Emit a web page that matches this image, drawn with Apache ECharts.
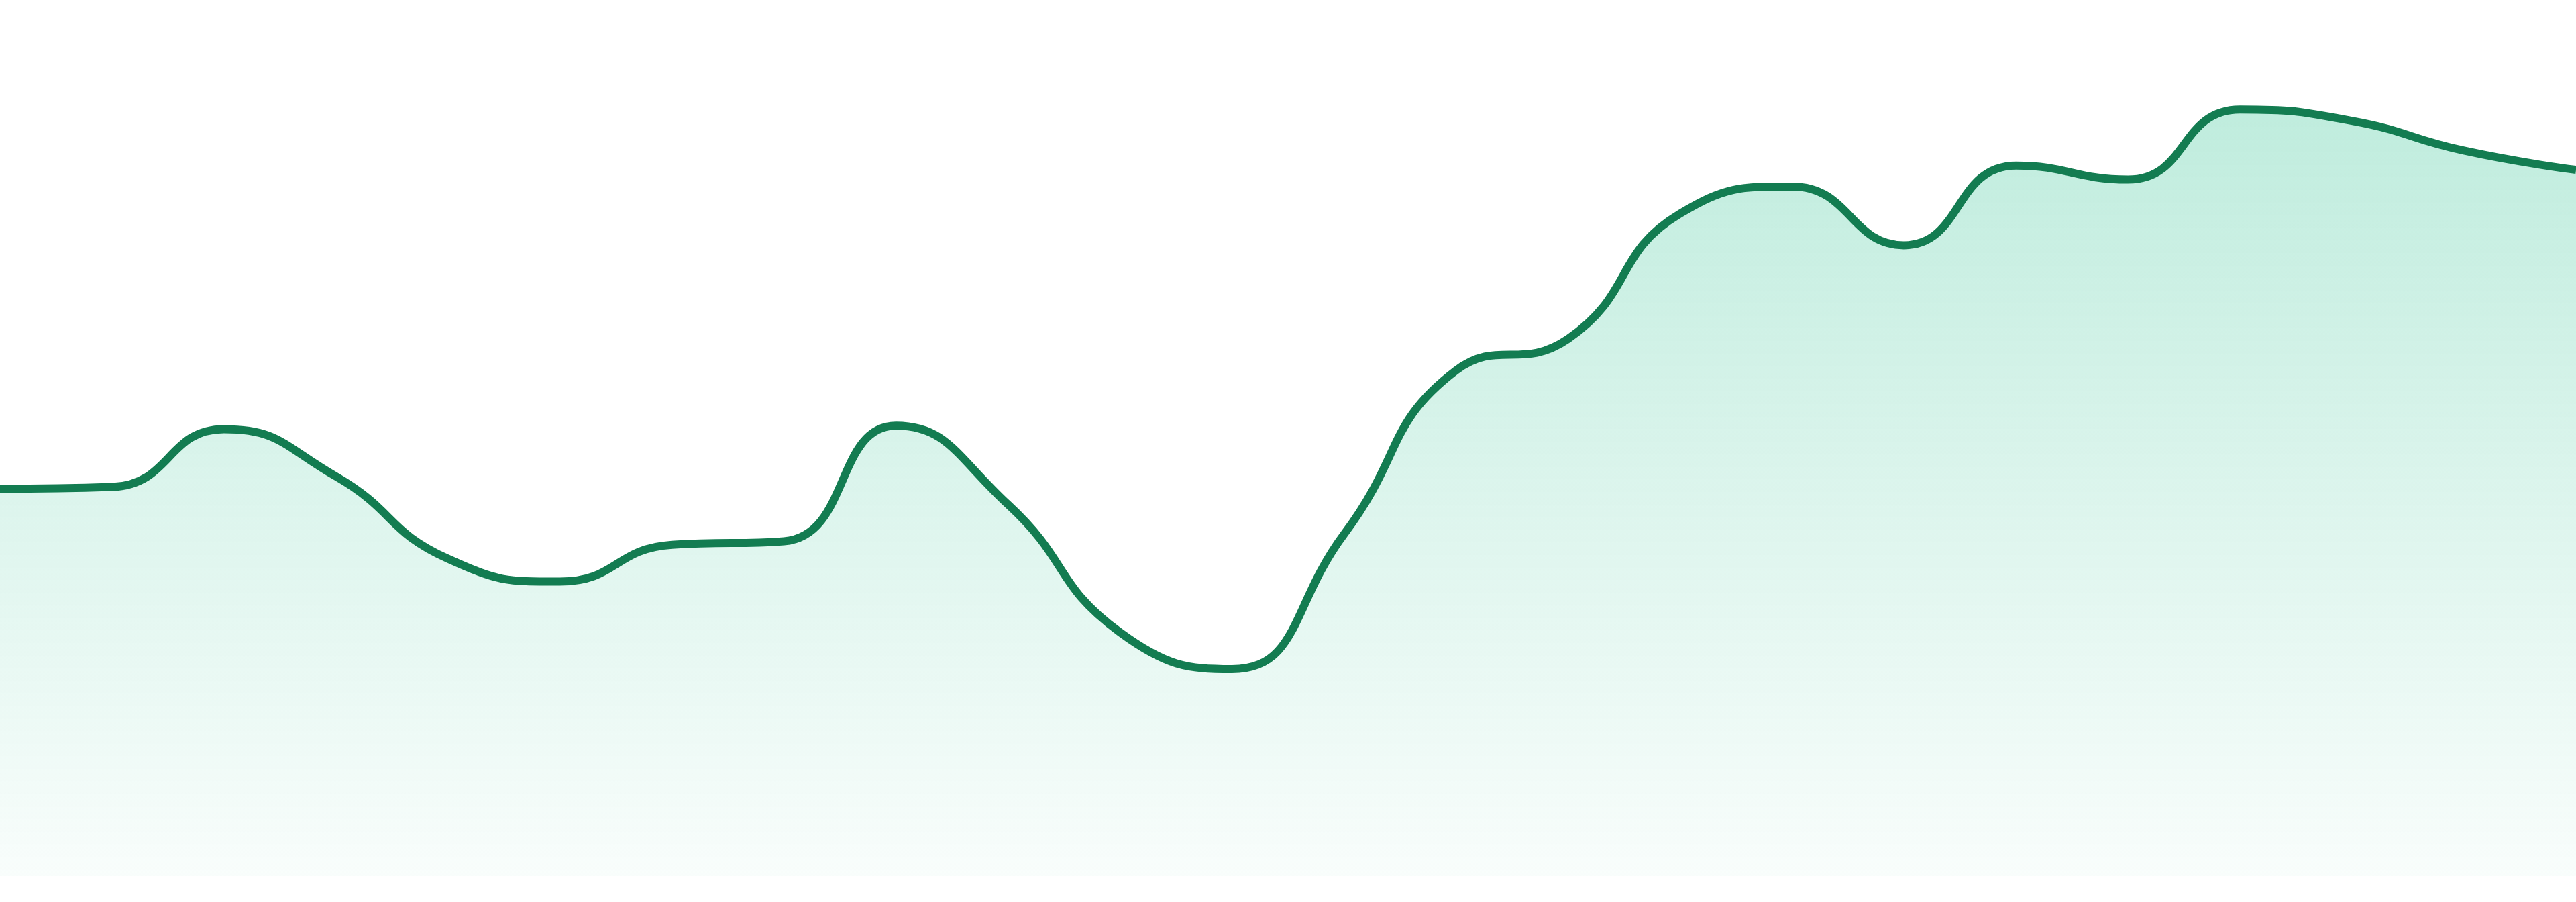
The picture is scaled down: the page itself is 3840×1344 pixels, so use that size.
<!DOCTYPE html>
<html>
<head>
<meta charset="utf-8">
<style>
  html, body { margin: 0; padding: 0; background: #ffffff; }
  #main { width: 3840px; height: 1344px; }
</style>
<script src="https://cdn.jsdelivr.net/npm/echarts@6/dist/echarts.min.js"></script>
</head>
<body>
<div id="main"></div>
<script>
// hourly points, axis hidden in the picture
var hours = ['00:00','01:00','02:00','03:00','04:00','05:00','06:00','07:00',
             '08:00','09:00','10:00','11:00','12:00','13:00','14:00','15:00',
             '16:00','17:00','18:00','19:00','20:00','21:00','22:00','23:00'];

var values = [44.2, 44.4, 51.0, 45.6, 36.2, 33.6, 37.8, 38.2,
              51.4, 42.4, 27.8, 23.6, 39.0, 57.7, 61.3, 75.6,
              78.7, 72.0, 81.1, 79.5, 87.5, 86.2, 82.8, 80.6];

var yMin = 0;
var yMax = 100;

var myChart = echarts.init(document.getElementById('main'));

var option = {
    animation: false,
    grid: {
        left: 0,
        right: 0,
        top: 0,
        bottom: 39
    },
    xAxis: {
        type: 'category',
        boundaryGap: false,
        data: hours,
        show: false
    },
    yAxis: {
        type: 'value',
        min: yMin,
        max: yMax,
        show: false
    },
    series: [
        {
            type: 'line',
            data: values,
            smooth: 0.5,
            showSymbol: false,
            lineStyle: {
                color: '#137c51',
                width: 12
            },
            areaStyle: {
                // mint fading to almost white at the baseline
                color: new echarts.graphic.LinearGradient(0, 0, 0, 1, [
                    { offset: 0, color: 'rgba(16,185,129,0.38)' },
                    { offset: 1, color: 'rgba(16,185,129,0.04)' }
                ])
            }
        }
    ]
};

myChart.setOption(option);
</script>
</body>
</html>
